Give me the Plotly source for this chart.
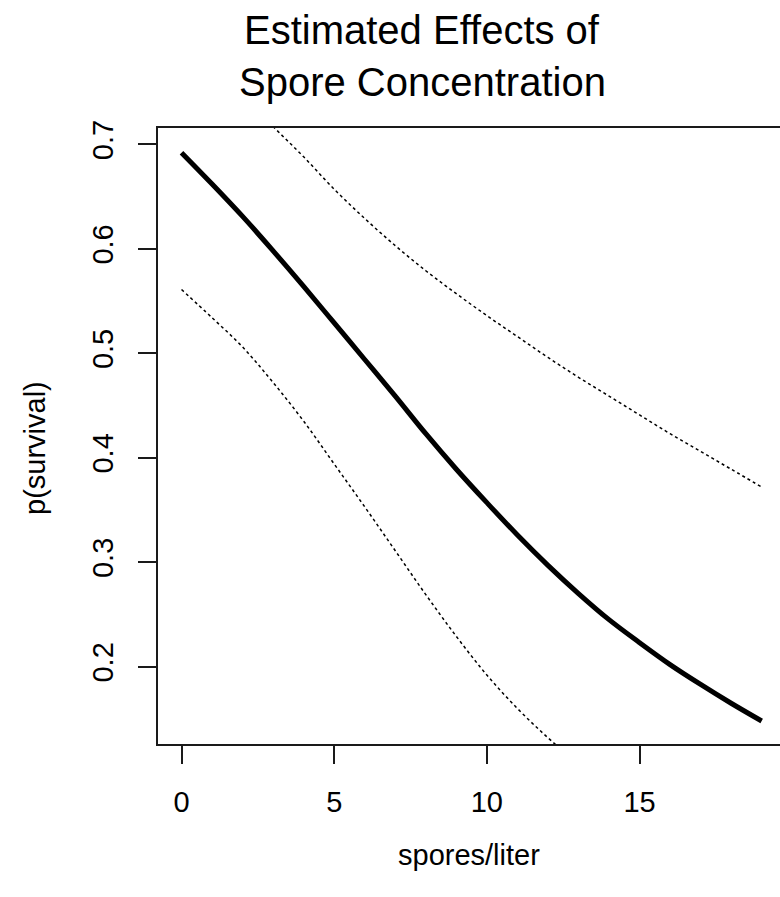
import plotly.graph_objects as go

# spores/liter values
spores = [0, 1, 2, 3, 4, 5, 6, 7, 8, 9, 10, 11, 12, 13, 14, 15, 16, 17, 18, 19]
# estimated p(survival)
fit = [0.692, 0.662, 0.631, 0.598, 0.564, 0.529, 0.494, 0.459, 0.423, 0.389,
       0.357, 0.326, 0.297, 0.270, 0.245, 0.223, 0.202, 0.183, 0.165, 0.148]
upper = [0.800, 0.775, 0.747, 0.717, 0.688, 0.657, 0.629, 0.603, 0.579, 0.557,
         0.536, 0.516, 0.496, 0.477, 0.459, 0.441, 0.423, 0.406, 0.389, 0.372]
lower = [0.561, 0.534, 0.506, 0.472, 0.435, 0.394, 0.353, 0.311, 0.269, 0.229,
         0.192, 0.160, 0.132, 0.107, 0.085, 0.068, 0.054, 0.043, 0.034, 0.027]

x_ticks = [0, 5, 10, 15]
y_ticks = [0.2, 0.3, 0.4, 0.5, 0.6, 0.7]
y_labels = ["0.2", "0.3", "0.4", "0.5", "0.6", "0.7"]
title_lines = ["Estimated Effects of", "Spore Concentration"]

FONT = "Liberation Sans, Arial, sans-serif"
AX = "#1a1a1a"

fig = go.Figure()
fig.add_trace(go.Scatter(x=spores, y=upper, mode="lines", line_shape="spline",
                         line=dict(color="#000", width=1.5, dash="3px,3px"),
                         hoverinfo="skip", showlegend=False))
fig.add_trace(go.Scatter(x=spores, y=lower, mode="lines", line_shape="spline",
                         line=dict(color="#000", width=1.5, dash="3px,3px"),
                         hoverinfo="skip", showlegend=False))
fig.add_trace(go.Scatter(x=spores, y=fit, mode="lines", line_shape="spline",
                         line=dict(color="#000", width=5),
                         hoverinfo="skip", showlegend=False))

PL, PT, PW, PH = 158, 128, 622, 616


def px(xp):
    return (xp - PL) / PW


def py(yp):
    return 1 - (yp - PT) / PH


annotations = [
    dict(text=title_lines[0], xref="paper", yref="paper", x=px(422), y=py(30),
         xanchor="center", yanchor="middle", showarrow=False,
         font=dict(size=40, family=FONT, color="#000")),
    dict(text=title_lines[1], xref="paper", yref="paper", x=px(422), y=py(82),
         xanchor="center", yanchor="middle", showarrow=False,
         font=dict(size=40, family=FONT, color="#000")),
    dict(text="spores/liter", xref="paper", yref="paper",
         x=px(469), y=py(855),
         xanchor="center", yanchor="middle", showarrow=False,
         font=dict(size=29, family=FONT, color="#000")),
    dict(text="p(survival)", xref="paper", yref="paper",
         x=px(35), y=py(448),
         xanchor="center", yanchor="middle", showarrow=False, textangle=-90,
         font=dict(size=29, family=FONT, color="#000")),
]

fig.update_layout(
    width=780, height=897,
    margin=dict(l=PL, r=0, t=PT, b=897 - PT - PH),
    paper_bgcolor="white", plot_bgcolor="white",
    font=dict(family=FONT, color="#000", size=29),
    xaxis=dict(range=[-0.77, 19.6], tickvals=x_ticks,
               showgrid=False, zeroline=False,
               showline=True, linecolor=AX, linewidth=1.6, mirror=True,
               ticks="outside", ticklen=18, tickwidth=1.6, tickcolor=AX,
               ticklabelstandoff=13,
               tickfont=dict(size=29, family=FONT, color="#000")),
    yaxis=dict(range=[0.126, 0.7156], tickvals=y_ticks, ticktext=y_labels,
               tickangle=-90,
               showgrid=False, zeroline=False,
               showline=True, linecolor=AX, linewidth=1.6, mirror=False,
               ticks="outside", ticklen=18, tickwidth=1.6, tickcolor=AX,
               ticklabelstandoff=14,
               tickfont=dict(size=29, family=FONT, color="#000")),
    annotations=annotations,
)

fig.write_html("out.html", config={"displayModeBar": False})
